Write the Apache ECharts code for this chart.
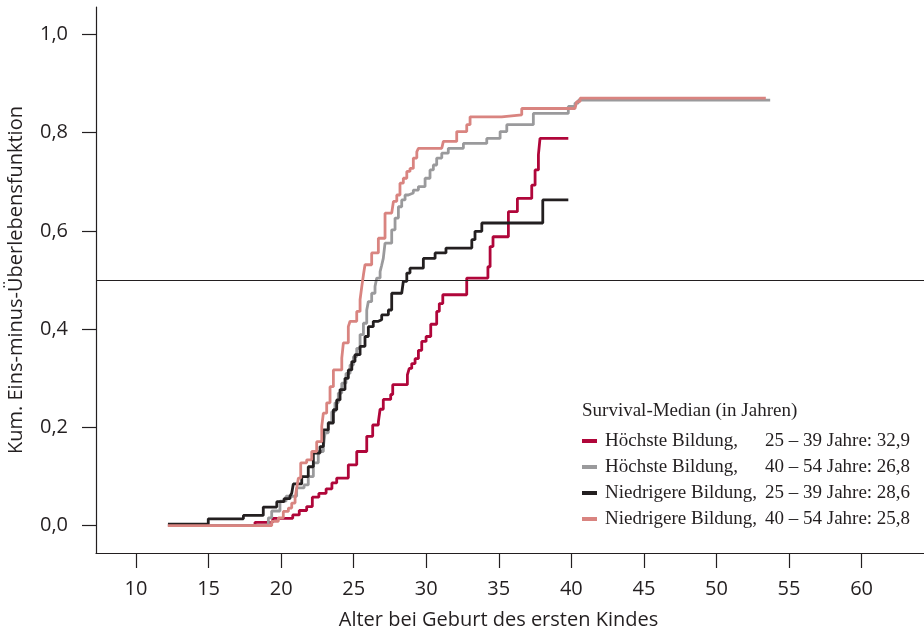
<!DOCTYPE html>
<html><head><meta charset="utf-8">
<script src="https://cdn.jsdelivr.net/npm/echarts@6/dist/echarts.min.js"></script>
<style>html,body{margin:0;padding:0;background:#fff}#c{width:924px;height:634px}</style>
</head><body><div id="c"></div>
<script>
const xTicks = [10, 15, 20, 25, 30, 35, 40, 45, 50, 55, 60];
const yTicks = [0, 0.2, 0.4, 0.6, 0.8, 1.0];
const xTitle = 'Alter bei Geburt des ersten Kindes';
const yTitle = 'Kum. Eins-minus-Überlebensfunktion';
const legendTitle = 'Survival-Median (in Jahren)';
const groupLabels = ['Höchste Bildung,', 'Höchste Bildung,', 'Niedrigere Bildung,', 'Niedrigere Bildung,'];
const ageLabels = ['25 – 39 Jahre: 32,9', '40 – 54 Jahre: 26,8', '25 – 39 Jahre: 28,6', '40 – 54 Jahre: 25,8'];
const medianLevel = 0.5;

const redAge = [12.2,18.2,19.42,20.8,21.25,21.76,22.15,22.6,23.1,23.5,23.83,24.63,25.21,25.9,26.31,26.7,26.82,27.04,27.55,27.69,28.7,28.83,29.0,29.23,29.46,29.69,29.99,30.31,30.72,30.9,31.14,32.79,34.25,34.4,34.6,35.66,36.28,37.27,37.5,37.73,37.84,39.79];
const redVal = [0,0.007,0.015,0.022,0.031,0.039,0.058,0.066,0.075,0.087,0.097,0.124,0.151,0.182,0.205,0.211,0.237,0.257,0.267,0.287,0.307,0.32,0.33,0.34,0.357,0.375,0.385,0.41,0.436,0.452,0.47,0.504,0.527,0.568,0.588,0.639,0.666,0.693,0.724,0.755,0.788,0.788];

const grayAge = [12.2,19.12,19.35,19.92,20.34,21.07,21.58,21.87,22.22,22.56,22.91,23.03,23.25,23.49,23.71,23.94,24.18,24.47,24.75,24.98,25.21,25.44,25.67,25.9,26.01,26.24,26.47,26.59,26.82,26.93,27.04,27.16,27.62,27.85,28.08,28.31,28.54,28.77,29.11,29.46,29.92,30.26,30.49,30.72,31.07,31.52,32.56,34.17,35.09,35.55,37.38,39.79,40.25,40.48,53.7];
const grayVal = [0,0.016,0.03,0.05,0.06,0.077,0.083,0.1,0.128,0.151,0.161,0.189,0.21,0.232,0.25,0.27,0.29,0.31,0.327,0.344,0.361,0.389,0.412,0.439,0.456,0.473,0.487,0.504,0.517,0.53,0.544,0.575,0.602,0.626,0.649,0.663,0.673,0.677,0.683,0.69,0.707,0.724,0.734,0.748,0.758,0.768,0.778,0.788,0.802,0.816,0.839,0.853,0.86,0.866,0.866];

const blackAge = [12.2,14.98,17.4,18.77,19.7,20.2,20.61,20.73,20.84,21.42,21.87,22.22,22.68,22.91,23.25,23.6,23.83,24.06,24.4,24.63,24.87,25.09,25.44,25.78,26.01,26.35,26.7,26.93,27.39,27.62,28.31,28.42,28.66,28.88,29.8,30.61,31.36,33.14,33.36,33.83,38.03,39.79];
const blackVal = [0.003,0.014,0.021,0.038,0.049,0.055,0.06,0.066,0.085,0.1,0.12,0.148,0.161,0.195,0.209,0.236,0.256,0.277,0.3,0.317,0.334,0.348,0.365,0.385,0.405,0.416,0.419,0.429,0.439,0.473,0.476,0.497,0.514,0.524,0.544,0.555,0.565,0.582,0.599,0.616,0.663,0.663];

const pinkAge = [12.2,19.35,19.81,20.15,20.5,20.73,20.96,21.07,21.19,21.35,21.76,22.11,22.45,22.8,22.91,23.14,23.37,23.6,24.18,24.29,24.63,24.75,25.21,25.44,25.56,25.67,25.78,26.24,26.7,27.16,27.62,27.74,27.97,28.19,28.42,28.66,28.88,29.11,29.35,29.46,31.07,31.18,32.1,32.79,33.02,35.2,36.58,40.25,40.37,40.6,53.4];
const pinkVal = [0,0.009,0.016,0.029,0.036,0.046,0.056,0.076,0.097,0.128,0.134,0.151,0.171,0.202,0.229,0.25,0.283,0.317,0.341,0.372,0.405,0.416,0.436,0.46,0.487,0.51,0.531,0.555,0.585,0.636,0.639,0.66,0.673,0.697,0.707,0.721,0.727,0.748,0.761,0.768,0.771,0.782,0.802,0.816,0.832,0.836,0.849,0.853,0.863,0.87,0.87];

const colors = ['#b0063a', '#9a9a9c', '#231f20', '#d98480'];
const ages = [redAge, grayAge, blackAge, pinkAge];
const vals = [redVal, grayVal, blackVal, pinkVal];
const seriesNames = groupLabels.map((g, i) => g + ' ' + ageLabels[i]);

const sansFont = '"Open Sans", "Noto Sans", sans-serif';
const serifFont = '"Liberation Serif", "DejaVu Serif", serif';
const ink = '#231f20';

const series = seriesNames.map((name, i) => ({
  name: name,
  type: 'line',
  step: 'end',
  showSymbol: false,
  symbol: 'none',
  color: colors[i],
  lineStyle: { width: 2.8, color: colors[i] },
  data: ages[i].map((a, j) => [a, vals[i][j]]),
  z: 3 + i
}));
series.unshift({
  name: '_median',
  type: 'line',
  data: [],
  markLine: {
    silent: true,
    symbol: ['none', 'none'],
    label: { show: false },
    lineStyle: { type: 'solid', width: 1, color: ink },
    data: [{ yAxis: medianLevel }]
  },
  z: 2
});

const chart = echarts.init(document.getElementById('c'), null, { renderer: 'canvas' });
chart.setOption({
  animation: false,
  backgroundColor: '#fff',
  title: {
    text: legendTitle,
    left: 582, top: 402, padding: 0,
    textStyle: { fontFamily: serifFont, fontSize: 19, fontWeight: 'normal', color: ink }
  },
  legend: {
    data: seriesNames,
    orient: 'vertical',
    left: 582, top: 431,
    itemWidth: 15, itemHeight: 4, itemGap: 6,
    icon: 'rect',
    selectedMode: false,
    padding: 0,
    formatter: function (name) {
      const i = seriesNames.indexOf(name);
      return '{s|}{a|' + groupLabels[i] + '}{b|' + ageLabels[i] + '}';
    },
    textStyle: {
      fontFamily: serifFont, fontSize: 19, color: ink, lineHeight: 20,
      rich: {
        s: { width: 3 },
        a: { width: 160, fontFamily: serifFont, fontSize: 19, color: ink },
        b: { fontFamily: serifFont, fontSize: 19, color: ink }
      }
    }
  },
  grid: { left: 96, right: 0, top: 7, bottom: 81, containLabel: false, outerBoundsMode: 'none' },
  xAxis: {
    type: 'value',
    min: 7.243, max: 64.3,
    name: xTitle,
    nameLocation: 'middle',
    nameGap: 57,
    nameTextStyle: { fontFamily: sansFont, fontSize: 20, color: ink, padding: [0, 23, 0, 0] },
    axisLine: { show: true, onZero: false, lineStyle: { color: ink, width: 1.2 } },
    axisTick: { show: true, inside: false, length: 15, customValues: xTicks, lineStyle: { color: ink, width: 1.2 } },
    axisLabel: { customValues: xTicks, margin: 26, fontFamily: sansFont, fontSize: 20, color: ink },
    splitLine: { show: false }
  },
  yAxis: {
    type: 'value',
    min: -0.0555, max: 1.0555,
    name: yTitle,
    nameLocation: 'middle',
    nameGap: 70,
    nameRotate: 90,
    nameTextStyle: { fontFamily: sansFont, fontSize: 20, color: ink },
    axisLine: { show: true, onZero: false, lineStyle: { color: ink, width: 1.2 } },
    axisTick: { show: true, inside: false, length: 14, customValues: yTicks, lineStyle: { color: ink, width: 1.2 } },
    axisLabel: {
      customValues: yTicks, margin: 28, fontFamily: sansFont, fontSize: 20, color: ink,
      formatter: v => v.toFixed(1).replace('.', ',')
    },
    splitLine: { show: false }
  },
  series: series
});
</script>
</body></html>
